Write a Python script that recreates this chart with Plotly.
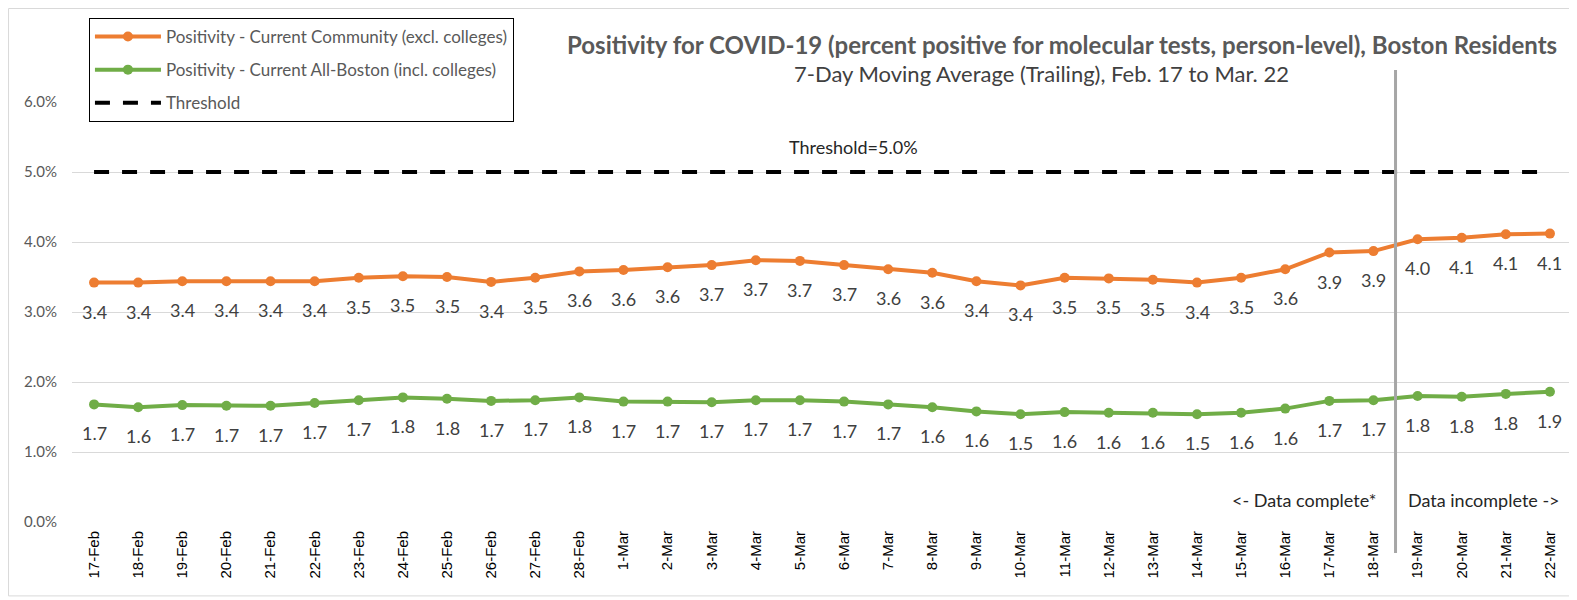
import plotly.graph_objects as go

dates = ["17-Feb", "18-Feb", "19-Feb", "20-Feb", "21-Feb", "22-Feb", "23-Feb", "24-Feb", "25-Feb",
         "26-Feb", "27-Feb", "28-Feb", "1-Mar", "2-Mar", "3-Mar", "4-Mar", "5-Mar", "6-Mar", "7-Mar",
         "8-Mar", "9-Mar", "10-Mar", "11-Mar", "12-Mar", "13-Mar", "14-Mar", "15-Mar", "16-Mar",
         "17-Mar", "18-Mar", "19-Mar", "20-Mar", "21-Mar", "22-Mar"]

community = [3.42, 3.42, 3.44, 3.44, 3.44, 3.44, 3.49, 3.51, 3.50, 3.43, 3.49, 3.58, 3.60, 3.64,
             3.67, 3.74, 3.73, 3.67, 3.61, 3.56, 3.44, 3.38, 3.49, 3.48, 3.46, 3.42, 3.49, 3.61,
             3.85, 3.87, 4.04, 4.06, 4.11, 4.12]

all_boston = [1.68, 1.64, 1.67, 1.66, 1.66, 1.70, 1.74, 1.78, 1.76, 1.73, 1.74, 1.78, 1.72, 1.72,
              1.71, 1.74, 1.74, 1.72, 1.68, 1.64, 1.58, 1.54, 1.57, 1.56, 1.56, 1.54, 1.56, 1.62,
              1.73, 1.74, 1.80, 1.79, 1.83, 1.86]

threshold = [5.0] * len(dates)

y_ticks = [0, 1, 2, 3, 4, 5, 6]
y_tick_text = ["0.0%", "1.0%", "2.0%", "3.0%", "4.0%", "5.0%", "6.0%"]

ORANGE = "#ED7D31"
GREEN = "#70AD47"
FONT = "Lato, 'Open Sans', sans-serif"

fig = go.Figure()

fig.add_trace(go.Scatter(
    x=dates, y=community, mode="lines+markers", legendgroup="a",
    name="Positivity - Current Community (excl. colleges)",
    line=dict(color=ORANGE, width=4), marker=dict(color=ORANGE, size=10),
))
fig.add_trace(go.Scatter(
    x=dates, y=all_boston, mode="lines+markers", legendgroup="b",
    name="Positivity - Current All-Boston (incl. colleges)",
    line=dict(color=GREEN, width=4), marker=dict(color=GREEN, size=10),
))
fig.add_trace(go.Scatter(
    x=dates, y=threshold, mode="lines", name="Threshold", legendgroup="c",
    line=dict(color="black", width=4, dash="15px,13px"),
))

# data labels
for series in (community, all_boston):
    for d, v in zip(dates, series):
        fig.add_annotation(x=d, y=v, text=f"{v:.1f}", showarrow=False, yshift=-29,
                           font=dict(family=FONT, size=18, color="#404040"))

fig.add_annotation(x=dates[17], y=5.0, text="Threshold=5.0%", showarrow=False, yshift=25,
                   xshift=9, font=dict(family=FONT, size=18, color="#262626"))

fig.add_annotation(x=29.5, y=0.32, text="<- Data complete*", showarrow=False, xanchor="right",
                   xshift=-18, font=dict(family=FONT, size=18, color="#262626"))
fig.add_annotation(x=29.5, y=0.32, text="Data incomplete ->", showarrow=False, xanchor="left",
                   xshift=10, font=dict(family=FONT, size=18, color="#262626"))

# title / subtitle
fig.add_annotation(xref="paper", yref="paper", x=0.66, y=1.136, xanchor="center", yanchor="middle",
                   text="<b>Positivity for COVID-19 (percent positive for molecular tests, person-level), Boston Residents</b>",
                   showarrow=False, font=dict(family=FONT, size=24, color="#595959"))
fig.add_annotation(xref="paper", yref="paper", x=0.646, y=1.069, xanchor="center", yanchor="middle",
                   text="7-Day Moving Average (Trailing), Feb. 17 to Mar. 22",
                   showarrow=False, font=dict(family=FONT, size=22, color="#404040"))

# divider line
fig.add_shape(type="line", xref="x", yref="paper", x0=29.5, x1=29.5, y0=-0.074, y1=1.076,
              line=dict(color="#A6A6A6", width=3))

# chart border
fig.add_shape(type="rect", xref="paper", yref="paper", x0=-0.0423, x1=1.0027, y0=-0.176, y1=1.2226,
              line=dict(color="#D9D9D9", width=1), layer="below")

fig.update_layout(
    width=1569, height=592,
    margin=dict(l=64, r=5, t=94, b=78, autoexpand=False),
    paper_bgcolor="white", plot_bgcolor="white",
    font=dict(family=FONT),
    showlegend=True,
    legend=dict(x=0.0113, y=1.2, xanchor="left", yanchor="top",
                bordercolor="black", borderwidth=1, bgcolor="white",
                font=dict(family=FONT, size=17, color="#595959"),
                tracegroupgap=8, itemwidth=66),
    xaxis=dict(type="category", tickangle=-90, showgrid=False, showline=False, ticks="",
               automargin=False, ticklabelstandoff=5,
               tickfont=dict(family="Liberation Sans, Arial, sans-serif", size=15, color="black"),
               range=[-0.5, 33.5]),
    yaxis=dict(range=[0, 6], tickvals=y_ticks, ticktext=y_tick_text, showgrid=True,
               automargin=False,
               gridcolor="#D9D9D9", gridwidth=1, zeroline=False, showline=False,
               tickfont=dict(family=FONT, size=15, color="#595959"), ticklabelstandoff=14),
)

fig.write_html("out.html")
